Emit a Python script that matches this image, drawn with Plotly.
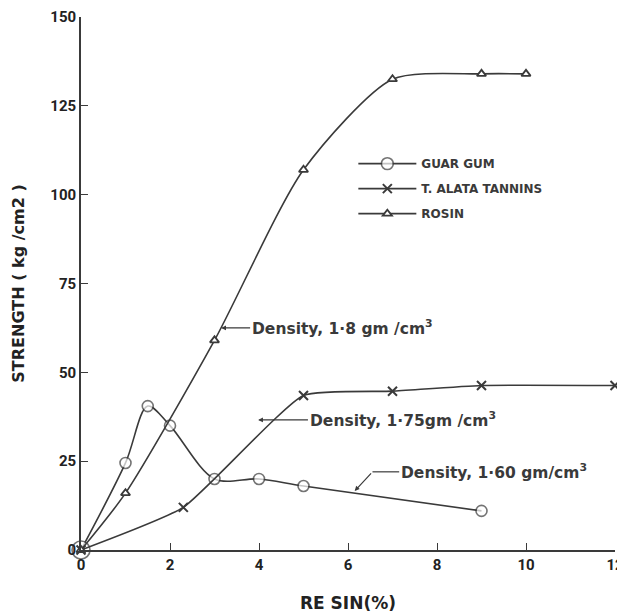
import plotly.graph_objects as go

# ---- data ----
guar_x = [0, 1, 1.5, 2, 3, 4, 5, 9]
guar_y = [0, 24.5, 40.5, 35, 20, 20, 18, 11]

tannin_x = [0, 2.3, 5, 7, 9, 12]
tannin_y = [0, 12, 43.5, 44.7, 46.3, 46.3]

rosin_x = [0, 1, 3, 5, 7, 9, 10]
rosin_y = [0, 16, 59, 107, 132.5, 134, 134]

x_ticks = [0, 2, 4, 6, 8, 10, 12]
y_ticks = [0, 25, 50, 75, 100, 125, 150]

series_names = ["GUAR GUM", "T. ALATA TANNINS", "ROSIN"]

INK = "#3a3a3a"
FONT = "DejaVu Sans"

fig = go.Figure()

fig.add_trace(go.Scatter(
    x=guar_x, y=guar_y, name=series_names[0], mode="lines+markers",
    line=dict(color=INK, width=1.6, shape="spline", smoothing=0.9),
    marker=dict(symbol="circle", size=[18] + [11] * (len(guar_x) - 1), color="white",
                line=dict(color=INK, width=1.6)),
    cliponaxis=False, legendgroup="g1",
))
fig.add_trace(go.Scatter(
    x=tannin_x, y=tannin_y, name=series_names[1], mode="lines+markers",
    line=dict(color=INK, width=1.6, shape="spline", smoothing=0.45),
    marker=dict(symbol="x-thin-open", size=9, color=INK, line=dict(color=INK, width=2)),
    cliponaxis=False, legendgroup="g2",
))
fig.add_trace(go.Scatter(
    x=rosin_x, y=rosin_y, name=series_names[2], mode="lines+markers",
    line=dict(color=INK, width=1.6, shape="spline", smoothing=0.7),
    marker=dict(symbol="triangle-up", size=8, color="white", line=dict(color=INK, width=1.8)),
    cliponaxis=False, legendgroup="g3",
))

ann_font = dict(family=FONT, size=15.5, color=INK, weight=700)

# Density labels with leader arrows
fig.add_annotation(x=3.15, y=62.5, ax=3.8, ay=62.5, axref="x", ayref="y",
                   text="Density, 1·8 gm /cm<sup>3</sup>", xanchor="left", yanchor="middle",
                   showarrow=True, arrowhead=2, arrowsize=0.8, arrowwidth=1.2,
                   arrowcolor=INK, font=ann_font)
fig.add_annotation(x=3.98, y=36.6, ax=5.1, ay=36.6, axref="x", ayref="y",
                   text="Density, 1·75gm /cm<sup>3</sup>", xanchor="left", yanchor="middle",
                   showarrow=True, arrowhead=2, arrowsize=0.8, arrowwidth=1.2,
                   arrowcolor=INK, font=ann_font)
fig.add_annotation(x=7.15, y=22, text="Density, 1·60 gm/cm<sup>3</sup>",
                   xanchor="left", yanchor="middle", showarrow=False, font=ann_font)
fig.add_shape(type="line", x0=6.55, y0=22, x1=7.15, y1=22,
              line=dict(color=INK, width=1.2))
fig.add_annotation(x=6.15, y=16.6, ax=6.55, ay=22, axref="x", ayref="y",
                   text="", showarrow=True, arrowhead=2, arrowsize=0.8, arrowwidth=1.2,
                   arrowcolor=INK)

axis_common = dict(
    showline=True, linecolor=INK, linewidth=1.6, mirror=False,
    ticks="inside", ticklen=7, tickwidth=1.4, tickcolor=INK,
    showgrid=False, zeroline=False, automargin=False, ticklabeloverflow="allow",
    tickfont=dict(family="Roboto", size=15, color="#222", weight=700),
)

# the page body adds an 8px offset; the figure is sized and margined so the
# plot area lands at about x 81..615, y 17..550 in the 625x613 window
fig.update_layout(
    width=617, height=605,
    margin=dict(l=73, r=10, t=9, b=63),
    paper_bgcolor="white", plot_bgcolor="white",
    xaxis=dict(range=[0, 12], tickvals=x_ticks, ticktext=[str(v) for v in x_ticks],
               title=dict(text="RE SIN(%)", font=dict(family=FONT, size=17, color="#222", weight=700),
                          standoff=24),
               **axis_common),
    yaxis=dict(range=[0, 150], tickvals=y_ticks, ticktext=[str(v) for v in y_ticks],
               title=dict(text="STRENGTH ( kg /cm2 )", font=dict(family=FONT, size=16, color="#222", weight=700),
                          standoff=22),
               **axis_common),
    showlegend=True,
    legend=dict(x=0.51, y=0.678, xanchor="left", yanchor="middle",
                font=dict(family=FONT, size=12, color=INK, weight=700),
                bgcolor="rgba(0,0,0,0)", itemwidth=58, tracegroupgap=6),
)

fig.write_html("out.html")
